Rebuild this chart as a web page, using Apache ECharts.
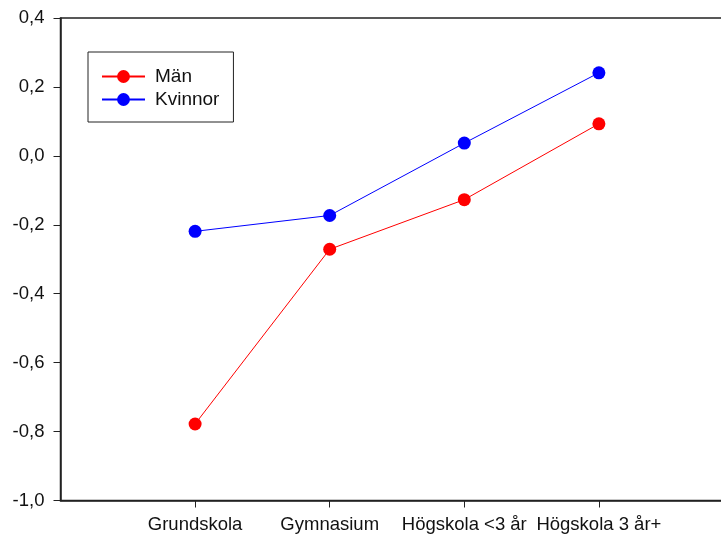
<!DOCTYPE html>
<html>
<head>
<meta charset="utf-8">
<script src="https://cdn.jsdelivr.net/npm/echarts@6/dist/echarts.min.js"></script>
<style>
html,body{margin:0;padding:0;background:#fff;}
#chart{width:721px;height:539px;}
</style>
</head>
<body>
<div id="chart"></div>
<script>
const categories = ['Grundskola', 'Gymnasium', 'Högskola <3 år', 'Högskola 3 år+'];
const manValues = [-0.778, -0.271, -0.127, 0.093];
const kvinnorValues = [-0.219, -0.173, 0.037, 0.241];
const yTicks = [-1.0, -0.8, -0.6, -0.4, -0.2, 0.0, 0.2, 0.4];

const positions = categories.map((c, i) => i + 1);
const toPairs = vals => vals.map((v, i) => [positions[i], v]);
const fmt = v => (Math.round(v * 10) / 10).toFixed(1).replace('.', ',');

const chart = echarts.init(document.getElementById('chart'), null, {renderer: 'canvas'});
const axisColor = '#222';
chart.setOption({
  animation: false,
  backgroundColor: '#fff',
  textStyle: {fontFamily: 'Liberation Sans, Arial, sans-serif'},
  grid: {
    left: 60.5, top: 18, width: 673, height: 482.5,
    outerBoundsMode: 'none',
    show: true, borderColor: axisColor, borderWidth: 1.5, backgroundColor: 'transparent'
  },
  legend: {
    orient: 'vertical',
    left: 88, top: 52,
    padding: [15, 14, 13, 13],
    itemWidth: 43, itemHeight: 16, itemGap: 4,
    borderColor: '#222', borderWidth: 1, backgroundColor: '#fff',
    textStyle: {fontSize: 19, color: '#111', fontFamily: 'Liberation Sans, Arial, sans-serif', padding: [0, 0, 0, 5]},
    data: ['Män', 'Kvinnor']
  },
  xAxis: {
    type: 'value', min: 0, max: 5, interval: 1,
    splitLine: {show: false},
    axisLine: {show: true, onZero: false, lineStyle: {color: axisColor, width: 1.5}},
    axisTick: {show: true, length: 7, customValues: positions, lineStyle: {color: axisColor, width: 1}},
    axisLabel: {
      customValues: positions, margin: 15, fontSize: 18.5, color: '#111',
      formatter: v => categories[Math.round(v) - 1] || ''
    }
  },
  yAxis: {
    type: 'value', min: yTicks[0], max: yTicks[yTicks.length - 1], interval: 0.2,
    splitLine: {show: false},
    axisLine: {show: true, onZero: false, lineStyle: {color: axisColor, width: 1.5}},
    axisTick: {show: true, length: 7, lineStyle: {color: axisColor, width: 1}},
    axisLabel: {margin: 16, fontSize: 18.5, color: '#111', formatter: v => fmt(v)}
  },
  series: [
    {
      name: 'Män', type: 'line', data: toPairs(manValues),
      symbol: 'circle', symbolSize: 13,
      lineStyle: {color: '#ff0000', width: 1},
      itemStyle: {color: '#ff0000'}
    },
    {
      name: 'Kvinnor', type: 'line', data: toPairs(kvinnorValues),
      symbol: 'circle', symbolSize: 13,
      lineStyle: {color: '#0000ff', width: 1},
      itemStyle: {color: '#0000ff'}
    }
  ]
});
</script>
</body>
</html>
